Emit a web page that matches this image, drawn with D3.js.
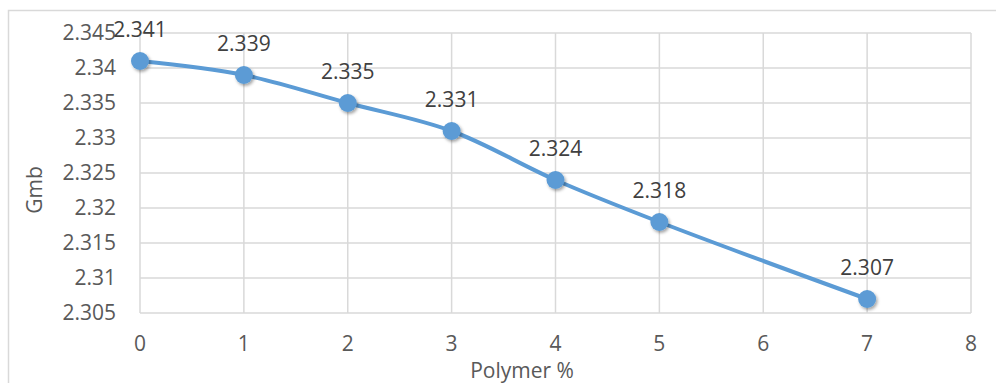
<!DOCTYPE html>
<html>
<head>
<meta charset="utf-8">
<script src="https://cdn.jsdelivr.net/npm/d3@7"></script>
<style>
  body { margin: 0; background: #fff; }
  #chart text { font-family: "Open Sans", Lato, sans-serif; fill: #595959; }
</style>
</head>
<body>
<div id="chart"></div>
<script>
// data
const polymer = [0, 1, 2, 3, 4, 5, 7];
const gmb = [2.341, 2.339, 2.335, 2.331, 2.324, 2.318, 2.307];
const xTicks = [0, 1, 2, 3, 4, 5, 6, 7, 8];
const yTicks = [2.305, 2.31, 2.315, 2.32, 2.325, 2.33, 2.335, 2.34, 2.345];

const W = 996, H = 383;
const margin = {top: 33, right: 25, bottom: 70, left: 140};
const width = W - margin.left - margin.right,
      height = H - margin.top - margin.bottom;

const svg = d3.select("#chart").append("svg")
    .attr("width", W)
    .attr("height", H);

// drop shadow for markers
const defs = svg.append("defs");
const f = defs.append("filter").attr("id", "shadow")
    .attr("x", "-50%").attr("y", "-50%").attr("width", "200%").attr("height", "200%");
f.append("feDropShadow")
    .attr("dx", 1.5).attr("dy", 2).attr("stdDeviation", 1.6)
    .attr("flood-color", "#000").attr("flood-opacity", 0.35);

// chart area border
svg.append("rect")
    .attr("x", 8.5).attr("y", 10.5)
    .attr("width", W).attr("height", H)
    .attr("fill", "none")
    .attr("stroke", "#d9d9d9")
    .attr("stroke-width", 1.5);

const g = svg.append("g")
    .attr("transform", "translate(" + margin.left + "," + margin.top + ")");

const x = d3.scaleLinear().domain([0, 8]).range([0, width]);
const y = d3.scaleLinear().domain([2.305, 2.345]).range([height, 0]);

// gridlines
g.append("g")
    .selectAll("line")
    .data(xTicks)
    .join("line")
    .attr("x1", d => x(d)).attr("x2", d => x(d))
    .attr("y1", 0).attr("y2", height)
    .attr("stroke", "#d9d9d9").attr("stroke-width", 1.5);

g.append("g")
    .selectAll("line")
    .data(yTicks)
    .join("line")
    .attr("x1", 0).attr("x2", width)
    .attr("y1", d => y(d)).attr("y2", d => y(d))
    .attr("stroke", "#d9d9d9").attr("stroke-width", 1.5);

// tick labels
g.append("g")
    .selectAll("text")
    .data(yTicks)
    .join("text")
    .attr("x", -24)
    .attr("y", d => y(d))
    .attr("dy", "0.35em")
    .attr("text-anchor", "end")
    .style("font-size", "21px")
    .text(d => +d.toFixed(3));

g.append("g")
    .selectAll("text")
    .data(xTicks)
    .join("text")
    .attr("x", d => x(d))
    .attr("y", height + 31)
    .attr("dy", "0.35em")
    .attr("text-anchor", "middle")
    .style("font-size", "21px")
    .text(d => d);

// axis titles
svg.append("text")
    .attr("x", 522)
    .attr("y", 371)
    .attr("dy", "0.35em")
    .attr("text-anchor", "middle")
    .style("font-size", "21px")
    .text("Polymer %");

svg.append("text")
    .attr("transform", "translate(35,190) rotate(-90)")
    .attr("dy", "0.35em")
    .attr("text-anchor", "middle")
    .style("font-size", "21px")
    .text("Gmb");

// smooth line
const pts = polymer.map((p, i) => ({p: p, v: gmb[i]}));
const line = d3.line()
    .x(d => x(d.p))
    .y(d => y(d.v))
    .curve(d3.curveCatmullRom.alpha(0.5));

g.append("path")
    .datum(pts)
    .attr("fill", "none")
    .attr("stroke", "#5b9bd5")
    .attr("stroke-width", 4)
    .attr("stroke-linecap", "round")
    .attr("d", line);

g.append("g")
    .selectAll("circle")
    .data(pts)
    .join("circle")
    .attr("cx", d => x(d.p))
    .attr("cy", d => y(d.v))
    .attr("r", 9)
    .attr("fill", "#5b9bd5")
    .attr("filter", "url(#shadow)");

// data labels
g.append("g")
    .selectAll("text")
    .data(pts)
    .join("text")
    .attr("x", d => x(d.p))
    .attr("y", d => y(d.v) - 31)
    .attr("dy", "0.35em")
    .attr("text-anchor", "middle")
    .style("font-size", "21px")
    .style("fill", "#404040")
    .text(d => d.v.toFixed(3));
</script>
</body>
</html>
